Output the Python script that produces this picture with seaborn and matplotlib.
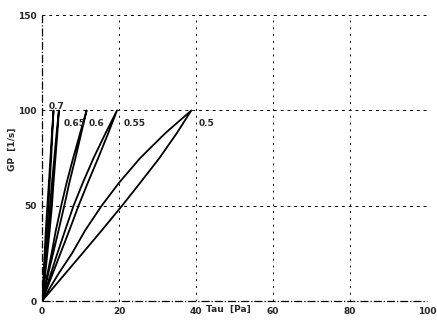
import matplotlib
matplotlib.use("Agg")
import matplotlib.pyplot as plt
import pandas as pd
import seaborn as sns

# Hysteresis loops: up branch and down branch, GP [1/s] vs Tau [Pa]
gp_levels = [0, 5, 15, 25, 37, 50, 62, 75, 88, 100]
loop_names = ['0.7', '0.65', '0.6', '0.55', '0.5']
tau_up = {
    '0.7': [0, 0.2, 0.45, 0.7, 1.0, 1.4, 1.8, 2.2, 2.6, 3.0],
    '0.65': [0, 0.3, 0.7, 1.1, 1.6, 2.1, 2.6, 3.2, 3.8, 4.4],
    '0.6': [0, 0.5, 1.5, 2.5, 3.6, 5.0, 6.4, 8.1, 9.9, 11.6],
    '0.55': [0, 0.8, 2.4, 4.0, 6.0, 8.2, 10.6, 13.4, 16.5, 19.5],
    '0.5': [0, 1.5, 4.5, 7.8, 11.2, 15.5, 20.0, 25.5, 32.0, 38.8],
}
tau_down = {
    '0.7': [0, 0.3, 0.6, 0.9, 1.3, 1.7, 2.0, 2.4, 2.7, 3.0],
    '0.65': [0, 0.4, 0.9, 1.4, 2.0, 2.6, 3.0, 3.5, 4.0, 4.4],
    '0.6': [0, 0.6, 1.7, 2.9, 4.3, 5.8, 7.1, 8.7, 10.2, 11.6],
    '0.55': [0, 1.0, 2.9, 4.8, 7.1, 9.5, 11.9, 14.6, 17.2, 19.5],
    '0.5': [0, 2.1, 6.3, 10.5, 15.5, 20.8, 25.5, 30.5, 35.0, 38.8],
}
label_tau = [1.8, 5.5, 12.2, 21.3, 40.8]
label_gp = [102, 93, 93, 93, 93]

rows = []
for name in loop_names:
    for t, g in zip(tau_up[name], gp_levels):
        rows.append((name, t, g))
    for t, g in zip(tau_down[name][::-1], gp_levels[::-1]):
        rows.append((name, t, g))
df = pd.DataFrame(rows, columns=['loop', 'tau', 'gp'])

sns.set_style('white')
plt.rcParams['font.family'] = ['DejaVu Sans']

fig = plt.figure(figsize=(4.37, 3.22), dpi=100)
ax = fig.add_axes([0.096, 0.065, 0.881, 0.888])

for x in [20, 40, 60, 80, 100]:
    ax.axvline(x, color='black', lw=0.7, ls=(0, (2, 5)), zorder=0)
for y in [50, 100, 150]:
    ax.axhline(y, color='black', lw=0.7, ls=(0, (3, 4)), zorder=0)
ax.axvline(0, color='black', lw=0.9, ls='-.', zorder=0, clip_on=False)
ax.axhline(0, color='black', lw=0.9, ls='-.', zorder=0, clip_on=False)

sns.lineplot(data=df, x='tau', y='gp', units='loop', estimator=None,
             sort=False, color='black', lw=1.3, ax=ax)

for name, tx, ty in zip(loop_names, label_tau, label_gp):
    ax.text(tx, ty, name, fontsize=6.5, fontweight='bold', ha='left', va='center')

ax.set_xlim(0, 100)
ax.set_ylim(0, 150)
ax.set_xticks([0, 20, 40, 60, 80, 100])
ax.set_yticks([0, 50, 100, 150])
ax.tick_params(length=0, labelsize=6.5, pad=4)
for lab in ax.get_xticklabels() + ax.get_yticklabels():
    lab.set_fontweight('bold')
for s in ax.spines.values():
    s.set_visible(False)

ax.set_xlabel('Tau  [Pa]', fontsize=6.5, fontweight='bold')
ax.xaxis.set_label_coords(0.485, -0.012)
ax.set_ylabel('GP  [1/s]', fontsize=6.5, fontweight='bold')
ax.yaxis.set_label_coords(-0.065, 0.53)

fig.savefig('out.png', dpi=100)
